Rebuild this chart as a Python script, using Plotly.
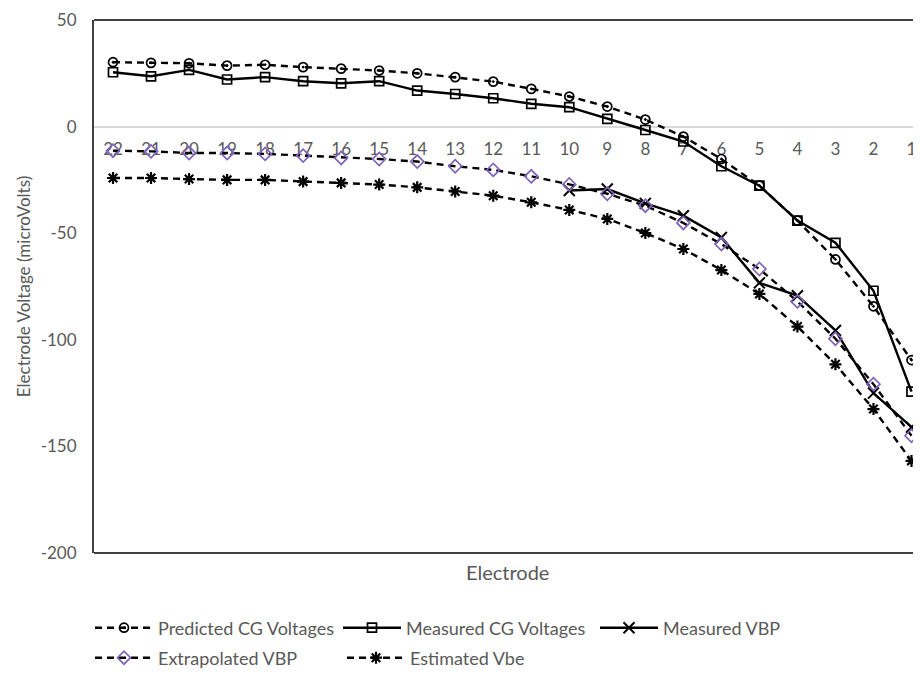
import plotly.graph_objects as go

electrodes = ["22", "21", "20", "19", "18", "17", "16", "15", "14", "13", "12",
              "11", "10", "9", "8", "7", "6", "5", "4", "3", "2", "1"]

predicted_cg = [30.2, 29.9, 29.7, 28.6, 29.0, 27.9, 27.2, 26.3, 25.0, 23.2, 21.1,
                17.7, 14.1, 9.4, 3.3, -4.7, -15.2, -27.7, -44.1, -62.3, -84.3, -109.5]
measured_cg = [25.5, 23.6, 26.6, 22.1, 23.2, 21.3, 20.3, 21.3, 16.9, 15.3, 13.3,
               10.7, 9.1, 3.6, -1.6, -7.0, -18.6, -27.7, -44.1, -54.5, -77.0, -124.3]
measured_vbp = [None, None, None, None, None, None, None, None, None, None, None,
                None, -30.0, -29.3, -36.0, -41.8, -52.0, -73.3, -79.3, -95.6, -125.0, -141.0]
extrapolated_vbp = [-11.3, -11.6, -12.4, -12.4, -12.8, -13.6, -14.7, -15.2, -16.4, -18.6, -20.3,
                    -23.3, -27.1, -31.5, -37.1, -45.2, -55.1, -66.8, -82.0, -99.5, -120.8, -145.0]
estimated_vbe = [-24.1, -24.1, -24.6, -25.0, -25.0, -25.8, -26.4, -27.2, -28.5, -30.4, -32.4,
                 -35.5, -39.1, -43.3, -49.9, -57.4, -67.3, -78.5, -93.8, -111.5, -132.5, -156.8]

y_ticks = [50, 0, -50, -100, -150, -200]
y_tick_text = ["50", "0", "-50", "-100", "-150", "-200"]

GRAY = "#595959"
FONT = "Lato"
PURPLE = "#7f63b8"
DASH = "7px,5px"

fig = go.Figure()

fig.add_trace(go.Scatter(
    x=electrodes, y=predicted_cg, name="Predicted CG Voltages", mode="lines+markers",
    line=dict(color="black", width=2.4, dash=DASH),
    marker=dict(symbol="circle-open-dot", size=9, color="black", line=dict(width=1.7)),
    legend="legend"))
fig.add_trace(go.Scatter(
    x=electrodes, y=measured_cg, name="Measured CG Voltages", mode="lines+markers",
    line=dict(color="black", width=2.4),
    marker=dict(symbol="square-open", size=9, color="black", line=dict(width=1.7)),
    legend="legend2"))
fig.add_trace(go.Scatter(
    x=electrodes, y=measured_vbp, name="Measured VBP", mode="lines+markers",
    line=dict(color="black", width=2.4),
    marker=dict(symbol="x-thin-open", size=11, color="black", line=dict(width=2)),
    connectgaps=False, legend="legend3"))
fig.add_trace(go.Scatter(
    x=electrodes, y=extrapolated_vbp, name="Extrapolated VBP", mode="lines+markers",
    line=dict(color="black", width=2.4, dash=DASH),
    marker=dict(symbol="diamond-open", size=10, color=PURPLE, line=dict(width=1.7, color=PURPLE)),
    legend="legend4"))
fig.add_trace(go.Scatter(
    x=electrodes, y=estimated_vbe, name="Estimated Vbe", mode="lines+markers",
    line=dict(color="black", width=2.4, dash=DASH),
    marker=dict(symbol="asterisk-open", size=10, color="black", line=dict(width=2.2)),
    legend="legend5"))

# plot frame (top and bottom borders)
for yy in (0, 1):
    fig.add_shape(type="line", xref="x domain", yref="y domain",
                  x0=0, x1=1, y0=yy, y1=yy, line=dict(color="#404040", width=2), layer="above")

fig.add_annotation(text="Electrode", xref="x domain", yref="y domain", x=0.5, y=-0.036,
                   showarrow=False, font=dict(family=FONT, size=20, color=GRAY), yanchor="middle")

# target page coordinates of the plot area (the page body adds an 8 px offset)
PLOT_L, PLOT_W = 94, 827
PLOT_B, PLOT_H = 553, 533


def leg(px_left, py_center):
    return dict(orientation="h", x=(px_left - PLOT_L) / PLOT_W, xanchor="left",
                y=(PLOT_B - py_center) / PLOT_H, yanchor="middle",
                font=dict(family=FONT, size=18, color=GRAY), bgcolor="rgba(0,0,0,0)",
                itemwidth=58, borderwidth=0)


fig.update_layout(
    width=913, height=666,
    margin=dict(l=86, r=0, t=12, b=121, autoexpand=False),
    paper_bgcolor="white", plot_bgcolor="white",
    font=dict(family=FONT, color=GRAY, size=16),
    xaxis=dict(
        type="category", categoryorder="array", categoryarray=electrodes,
        range=[-0.5, 21.25], anchor="free", position=0.8, automargin=False,
        showline=False, showgrid=False, zeroline=False, ticks="",
        tickfont=dict(family=FONT, size=17, color=GRAY),
        ticklabelstandoff=10, layer="below traces",
    ),
    yaxis=dict(
        range=[-200, 50], tickvals=y_ticks, ticktext=y_tick_text, showgrid=False,
        automargin=False,
        zeroline=True, zerolinecolor="#d9d9d9", zerolinewidth=1.5,
        showline=True, linecolor="#404040", linewidth=2, ticks="",
        tickfont=dict(family=FONT, size=17, color=GRAY), ticklabelstandoff=12,
        title=dict(text="Electrode Voltage (microVolts)", font=dict(family=FONT, size=17, color=GRAY),
                   standoff=6),
    ),
    legend=leg(90, 628),
    legend2=leg(338, 628),
    legend3=leg(595, 628),
    legend4=leg(90, 658),
    legend5=leg(342, 658),
    showlegend=True,
)

fig.write_html("out.html")
